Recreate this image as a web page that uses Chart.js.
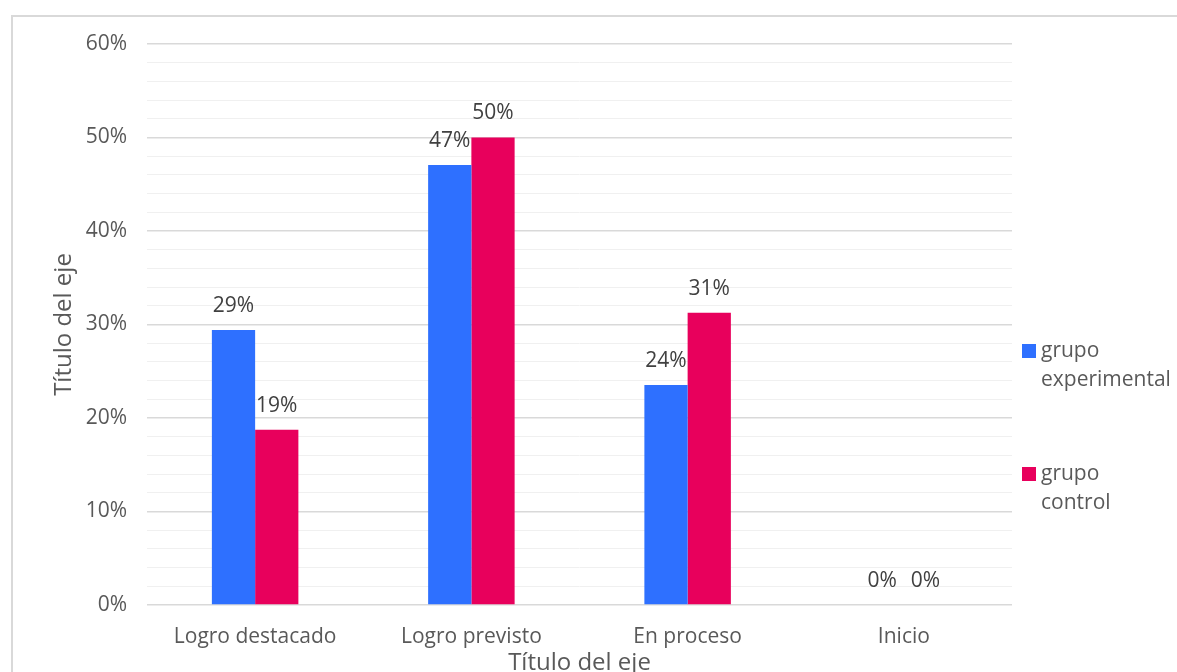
<!DOCTYPE html>
<html>
<head>
<meta charset="utf-8">
<script src="https://cdn.jsdelivr.net/npm/chart.js@4.4.0/dist/chart.umd.min.js"></script>
<style>
  body { margin: 0; background: #fff; overflow: hidden; }
  #frame { position: absolute; left: 11px; top: 15px; width: 1180px; height: 680px; border: 2px solid #d9d9d9; box-sizing: border-box; }
  #wrap { position: absolute; left: 0; top: 0; width: 1177px; height: 672px; }
</style>
</head>
<body>
<div id="frame"></div>
<div id="wrap"><canvas id="myChart" width="1177" height="672"></canvas></div>
<script>
// categories and series (percent)
const categories = ["Logro destacado", "Logro previsto", "En proceso", "Inicio"];
const experimental = [29.41, 47.06, 23.53, 0];
const control = [18.75, 50, 31.25, 0];
const seriesNames = [["grupo", "experimental"], ["grupo", "control"]];
const colors = ["#2e70ff", "#e8005c"];

const FONT = "'Open Sans', sans-serif";
const TEXT = "#595959";

// bar value labels
const valueLabels = {
    id: "valueLabels",
    afterDatasetsDraw(chart) {
        const ctx = chart.ctx;
        ctx.save();
        ctx.font = "21px " + FONT;
        ctx.fillStyle = "#404040";
        ctx.textAlign = "center";
        ctx.textBaseline = "middle";
        chart.data.datasets.forEach((ds, i) => {
            const meta = chart.getDatasetMeta(i);
            meta.data.forEach((bar, j) => {
                ctx.fillText(Math.round(ds.data[j]) + "%", bar.x, bar.y - 24);
            });
        });
        ctx.restore();
    }
};

// legend on the right with wrapped names
const sideLegend = {
    id: "sideLegend",
    afterDraw(chart) {
        const ctx = chart.ctx;
        const tops = [344, 467];
        ctx.save();
        ctx.font = "21px " + FONT;
        ctx.textAlign = "left";
        ctx.textBaseline = "middle";
        seriesNames.forEach((lines, i) => {
            ctx.fillStyle = colors[i];
            ctx.fillRect(1022, tops[i], 14, 14);
            ctx.fillStyle = TEXT;
            lines.forEach((t, k) => {
                ctx.fillText(t, 1041, tops[i] + 7 + k * 29);
            });
        });
        ctx.restore();
    }
};

const myChart = new Chart("myChart", {
    type: "bar",
    data: {
        labels: categories,
        datasets: [
            { label: "grupo experimental", data: experimental, backgroundColor: colors[0] },
            { label: "grupo control", data: control, backgroundColor: colors[1] }
        ]
    },
    options: {
        responsive: false,
        animation: false,
        datasets: { bar: { barPercentage: 1, categoryPercentage: 0.4 } },
        layout: { padding: { left: 12, right: 165, top: 44, bottom: 0 } },
        plugins: {
            legend: { display: false },
            tooltip: { enabled: false }
        },
        scales: {
            x: {
                grid: { display: false, drawTicks: false },
                border: { display: false },
                ticks: { color: TEXT, font: { family: FONT, size: 21 }, padding: 19 },
                title: { display: true, text: "Título del eje", color: TEXT, font: { family: FONT, size: 24 }, padding: { top: -6, bottom: -6 } },
                afterFit(scale) { scale.height = 67; }
            },
            y: {
                min: 0,
                max: 60,
                grid: {
                    drawTicks: false,
                    color: (c) => (c.tick && c.tick.value % 10 === 0 ? "#d9d9d9" : "#f0f0f0"),
                    lineWidth: (c) => (c.tick && c.tick.value % 10 === 0 ? 1.5 : 1)
                },
                border: { display: false },
                ticks: {
                    stepSize: 2,
                    autoSkip: false,
                    color: TEXT,
                    font: { family: FONT, size: 21 },
                    padding: 20,
                    callback: (v) => (v % 10 === 0 ? v + "%" : "")
                },
                title: { display: true, text: "Título del eje", color: TEXT, font: { family: FONT, size: 24 }, padding: { top: 38, bottom: 0 } },
                afterFit(scale) { scale.width = 135; }
            }
        }
    },
    plugins: [valueLabels, sideLegend]
});
</script>
</body>
</html>
